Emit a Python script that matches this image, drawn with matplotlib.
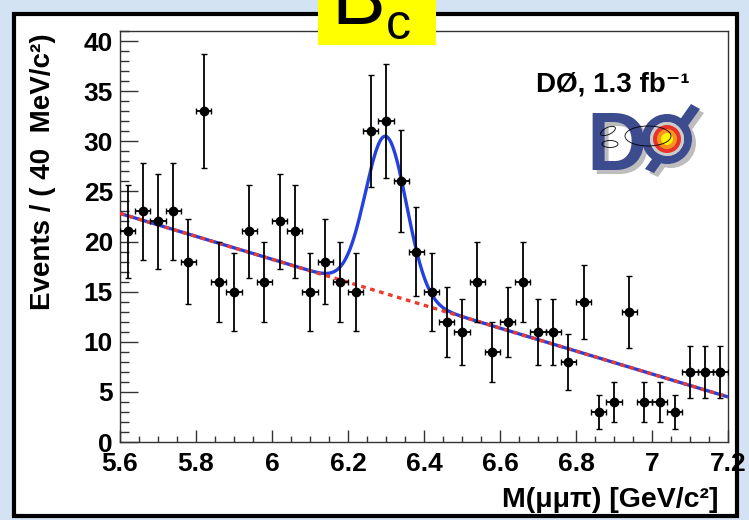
import numpy as np
import matplotlib
matplotlib.use('Agg')
import matplotlib.pyplot as plt
from matplotlib.patches import Rectangle, Circle, Wedge, Ellipse, Polygon

# ---------------- data ----------------
mass = [5.62, 5.66, 5.70, 5.74, 5.78, 5.82, 5.86, 5.90, 5.94, 5.98,
        6.02, 6.06, 6.10, 6.14, 6.18, 6.22, 6.26, 6.30, 6.34, 6.38,
        6.42, 6.46, 6.50, 6.54, 6.58, 6.62, 6.66, 6.70, 6.74, 6.78,
        6.82, 6.86, 6.90, 6.94, 6.98, 7.02, 7.06, 7.10, 7.14, 7.18]
counts = [21, 23, 22, 23, 18, 33, 16, 15, 21, 16,
          22, 21, 15, 18, 16, 15, 31, 32, 26, 19,
          15, 12, 11, 16, 9, 12, 16, 11, 11, 8,
          14, 3, 4, 13, 4, 4, 3, 7, 7, 7]
count_err = [4.6, 4.8, 4.7, 4.8, 4.2, 5.7, 4.0, 3.9, 4.6, 4.0,
             4.7, 4.6, 3.9, 4.2, 4.0, 3.9, 5.6, 5.7, 5.1, 4.4,
             3.9, 3.5, 3.3, 4.0, 3.0, 3.5, 4.0, 3.3, 3.3, 2.8,
             3.7, 1.7, 2.0, 3.6, 2.0, 2.0, 1.7, 2.6, 2.6, 2.6]
bin_half_width = 0.02

# fit model parameters
bkg_at_56 = 22.8
bkg_slope = -11.44
sig_mean = 6.30
sig_sigma = 0.054
sig_amp = 15.7

xticks = [5.6, 5.8, 6.0, 6.2, 6.4, 6.6, 6.8, 7.0, 7.2]
xticklabels = ['5.6', '5.8', '6', '6.2', '6.4', '6.6', '6.8', '7', '7.2']
yticks = [0, 5, 10, 15, 20, 25, 30, 35, 40]
yticklabels = ['0', '5', '10', '15', '20', '25', '30', '35', '40']

FONT = ['Liberation Sans', 'DejaVu Sans']
plt.rcParams['font.family'] = FONT

W, H = 749, 520
fig = plt.figure(figsize=(W / 100, H / 100), dpi=100)

# ---------------- background / frame ----------------
bg = fig.add_axes([0, 0, 1, 1], zorder=0)
bg.set_xlim(0, W); bg.set_ylim(H, 0); bg.axis('off')
bg.add_patch(Rectangle((0, 0), W, H, facecolor='#d3e3f3', edgecolor='none'))
bg.add_patch(Rectangle((14, 13.5), 723, 502, facecolor='white',
                       edgecolor='black', lw=3))

# ---------------- main axes ----------------
px = lambda v: v / 100 * 72  # pixels -> points
ax = fig.add_axes([120 / W, 1 - 442 / H, 608 / W, 411 / H], zorder=1)
ax.set_facecolor('none')
ax.set_xlim(5.6, 7.2)
ax.set_ylim(0, 41)

xf = np.linspace(5.6, 7.2, 600)
bkg = bkg_at_56 + bkg_slope * (xf - 5.6)
total = bkg + sig_amp * np.exp(-0.5 * ((xf - sig_mean) / sig_sigma) ** 2)
ax.plot(xf, total, color='#2440e0', lw=2.4, zorder=3, solid_capstyle='butt')
ax.plot(xf, bkg, color='#ee3a2c', lw=2.4, ls=(0, (1.4, 1.4)), zorder=4)

ax.errorbar(mass, counts, yerr=count_err, xerr=bin_half_width, fmt='o',
            color='black', ms=6, capsize=2.5, elinewidth=1.3,
            capthick=1.0, zorder=5)

for s in ['left', 'bottom', 'top', 'right']:
    ax.spines[s].set_color('#333333')
    ax.spines[s].set_linewidth(1.0)

ax.set_xticks(xticks)
ax.set_xticklabels(xticklabels)
ax.set_yticks(yticks)
ax.set_yticklabels(yticklabels)
ax.set_xticks(np.arange(5.6, 7.2001, 0.05), minor=True)
ax.set_yticks(np.arange(0, 41.001, 1), minor=True)
ax.tick_params(axis='x', which='major', direction='in', length=px(12), width=1,
               pad=px(10), labelsize=19, color='#333333')
ax.tick_params(axis='x', which='minor', direction='in', length=px(6), width=1,
               color='#333333')
ax.tick_params(axis='y', which='major', direction='in', length=px(18), width=1,
               pad=px(7), labelsize=19, color='#333333')
ax.tick_params(axis='y', which='minor', direction='in', length=px(9), width=1,
               color='#333333')
for lab in ax.get_xticklabels() + ax.get_yticklabels():
    lab.set_fontweight('bold')

# ---------------- overlay (title box, texts, logo) ----------------
ov = fig.add_axes([0, 0, 1, 1], zorder=2)
ov.set_xlim(0, W); ov.set_ylim(H, 0); ov.axis('off')

ov.add_patch(Rectangle((318, -5), 118, 50, facecolor='#ffff00', edgecolor='none'))
ov.text(331, 24, 'B', fontsize=58, color='black', ha='left', va='baseline')
ov.text(386, 39, 'c', fontsize=36, color='black', ha='left', va='baseline')

fig.text(43 / W, 1 - 172 / H, 'Events / ( 40  MeV/c²)', rotation=90,
         fontsize=20, fontweight='bold', ha='center', va='center')
ov.text(719, 507, 'M(μμπ) [GeV/c²]', fontsize=20.5, fontweight='bold',
        ha='right', va='baseline')
ov.text(536, 92, 'DØ, 1.3 fb⁻¹', fontsize=20, fontweight='bold',
        ha='left', va='baseline', family=FONT)

# DØ logo
navy = '#3d4b8f'
shadow = '#bdbdbd'
for dx, col, z in [(4, shadow, 2), (0, navy, 3)]:
    ov.text(586 + dx, 170 + dx, 'D', fontsize=60, fontweight='bold', color=col,
            ha='left', va='baseline', zorder=z)
    ov.add_patch(Polygon([(645 + dx, 169 + dx), (654 + dx, 173 + dx),
                          (700 + dx, 109 + dx), (691 + dx, 104 + dx)],
                         closed=True, facecolor=col, edgecolor='none', zorder=z))
    ov.add_patch(Wedge((667 + dx, 139 + dx), 25, 0, 360, width=8,
                       facecolor=col, edgecolor='none', zorder=z))
ov.add_patch(Circle((667, 139), 17, facecolor='#cccccc', edgecolor='none', zorder=4))
ov.add_patch(Circle((667, 139), 14, facecolor='#e8322a', edgecolor='none', zorder=4))
ov.add_patch(Circle((667, 139), 10, facecolor='#f7941e', edgecolor='none', zorder=4))
ov.add_patch(Circle((667, 139), 6, facecolor='#fff200', edgecolor='none', zorder=4))
ov.add_patch(Ellipse((608, 131), 16, 7, angle=-25, fill=False, lw=0.6,
                     edgecolor='black', zorder=5))
ov.add_patch(Ellipse((610, 144), 16, 7, angle=0, fill=False, lw=0.6,
                     edgecolor='black', zorder=5))
ov.add_patch(Ellipse((648, 136), 46, 20, angle=0, fill=False, lw=0.6,
                     edgecolor='black', zorder=5))

fig.savefig('out.png', dpi=100)
